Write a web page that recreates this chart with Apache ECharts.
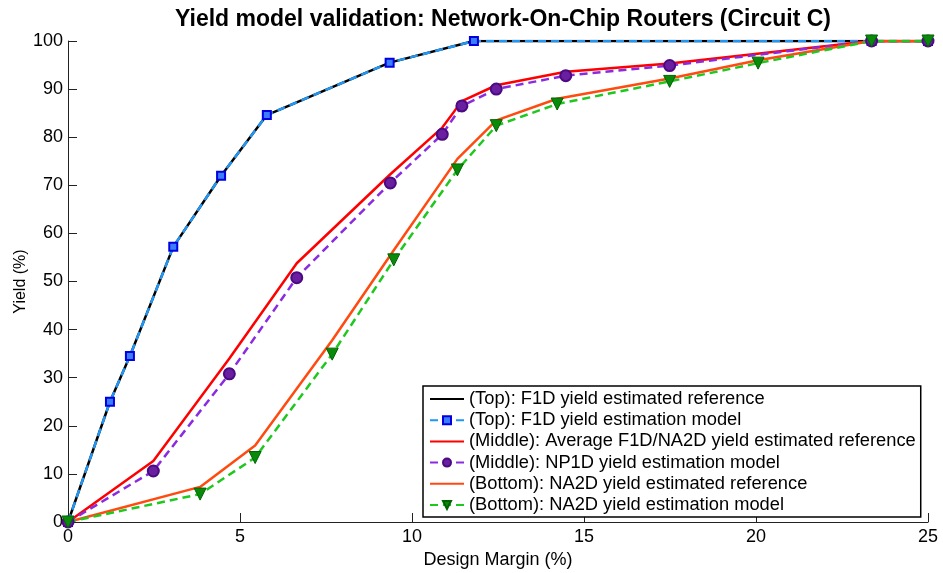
<!DOCTYPE html>
<html>
<head>
<meta charset="utf-8">
<script src="https://cdn.jsdelivr.net/npm/echarts@6/dist/echarts.min.js"></script>
<style>
html, body { margin: 0; padding: 0; background: #fff; }
#main { width: 943px; height: 573px; }
</style>
</head>
<body>
<div id="main"></div>
<script>
// design margin (%) values
const topX = [0, 1.22, 1.8, 3.06, 4.45, 5.78, 9.35, 11.8, 23.36, 25];
const topRef = [0, 25, 34.5, 57.2, 72, 84.6, 95.5, 100, 100, 100];
const topModel = [0, 25, 34.5, 57.2, 72, 84.6, 95.5, 100, 100, 100];

const midX = [0, 2.48, 4.69, 6.65, 9.37, 10.88, 11.45, 12.45, 14.47, 17.49, 23.36, 25];
const midRef = [0, 12.7, 34, 53.8, 72.3, 82, 87.5, 90.8, 93.6, 95.3, 100, 100];
const midModel = [0, 10.6, 30.8, 50.8, 70.5, 80.6, 86.5, 90, 92.8, 94.9, 100, 100];

const botX = [0, 3.84, 5.44, 7.68, 9.47, 11.32, 12.45, 14.22, 17.49, 20.06, 23.36, 25];
const botRef = [0, 7.3, 15.9, 37.8, 56.5, 75.5, 83.5, 88, 92.2, 96, 100, 100];
const botModel = [0, 5.8, 13.4, 34.9, 54.5, 73.2, 82.4, 86.9, 91.6, 95.4, 100, 100];

const legendNames = [
    "(Top): F1D yield estimated reference",
    "(Top): F1D yield estimation model",
    "(Middle): Average F1D/NA2D yield estimated reference",
    "(Middle): NP1D yield estimation model",
    "(Bottom): NA2D yield estimated reference",
    "(Bottom): NA2D yield estimation model"
];

const font = "'Liberation Sans', Arial, sans-serif";
const pairs = (xs, ys) => xs.map((x, i) => [x, ys[i]]);
// reference lines have no marker, hide the legend dot too
const noMark = "rgba(0,0,0,0)";

let myChart = echarts.init(document.getElementById("main"));

const option = {
    animation: false,
    backgroundColor: "#fff",
    title: {
        text: "Yield model validation: Network-On-Chip Routers (Circuit C)",
        left: 498,
        textAlign: "center",
        top: 3,
        textStyle: { fontFamily: font, fontSize: 23, fontWeight: "bold", color: "#000" }
    },
    legend: {
        orient: "vertical",
        left: 423,
        top: 386,
        padding: [4, 5, 3, 6],
        itemGap: 3.2,
        itemWidth: 34,
        itemHeight: 10,
        backgroundColor: "#fff",
        borderColor: "#000",
        borderWidth: 1.5,
        borderRadius: 0,
        textStyle: { fontFamily: font, fontSize: 18.3, lineHeight: 18, color: "#000" },
        data: legendNames
    },
    grid: { left: 68, right: 15, top: 41, bottom: 51, containLabel: false, outerBoundsMode: "none" },
    xAxis: {
        type: "value",
        min: 0,
        max: 25,
        interval: 5,
        name: "Design Margin (%)",
        nameLocation: "middle",
        nameGap: 27,
        nameTextStyle: { fontFamily: font, fontSize: 18, color: "#000" },
        axisLine: { lineStyle: { color: "#222", width: 1 } },
        axisTick: { inside: true, length: 9, lineStyle: { color: "#222" } },
        axisLabel: { fontFamily: font, fontSize: 18, color: "#000", margin: 6 },
        splitLine: { show: false }
    },
    yAxis: {
        type: "value",
        min: 0,
        max: 100,
        interval: 10,
        name: "Yield (%)",
        nameLocation: "middle",
        nameGap: 39,
        nameMoveOverlap: false,
        nameTextStyle: { fontFamily: font, fontSize: 16, color: "#000" },
        axisLine: { show: true, lineStyle: { color: "#222", width: 1 } },
        axisTick: { show: true, inside: true, length: 9, lineStyle: { color: "#222" } },
        axisLabel: { fontFamily: font, fontSize: 18, color: "#000", margin: 5 },
        splitLine: { show: false }
    },
    series: [
        {
            name: legendNames[0],
            type: "line",
            data: pairs(topX, topRef),
            symbol: "none",
            lineStyle: { color: "#000", width: 2.5 },
            itemStyle: { color: noMark }
        },
        {
            name: legendNames[1],
            type: "line",
            data: pairs(topX, topModel),
            symbol: "rect",
            symbolSize: 8,
            lineStyle: { color: "#2196f3", width: 2.5, type: [8, 5] },
            itemStyle: { color: "#3a7dff", borderColor: "#0000e0", borderWidth: 2 }
        },
        {
            name: legendNames[2],
            type: "line",
            data: pairs(midX, midRef),
            symbol: "none",
            lineStyle: { color: "#ff0000", width: 2.5 },
            itemStyle: { color: noMark }
        },
        {
            name: legendNames[3],
            type: "line",
            data: pairs(midX, midModel),
            symbol: "circle",
            symbolSize: 11,
            lineStyle: { color: "#8a2be2", width: 2.5, type: [8, 5] },
            itemStyle: { color: "#6a1fa0", borderColor: "#4b0a82", borderWidth: 2 }
        },
        {
            name: legendNames[4],
            type: "line",
            data: pairs(botX, botRef),
            symbol: "none",
            lineStyle: { color: "#ff4a10", width: 2.5 },
            itemStyle: { color: noMark }
        },
        {
            name: legendNames[5],
            type: "line",
            data: pairs(botX, botModel),
            symbol: "triangle",
            symbolRotate: 180,
            symbolSize: 12,
            lineStyle: { color: "#1ec81e", width: 2.5, type: [8, 5] },
            itemStyle: { color: "#0a8a0a", borderColor: "#006400", borderWidth: 1 }
        }
    ]
};
myChart.setOption(option, true);
</script>
</body>
</html>
